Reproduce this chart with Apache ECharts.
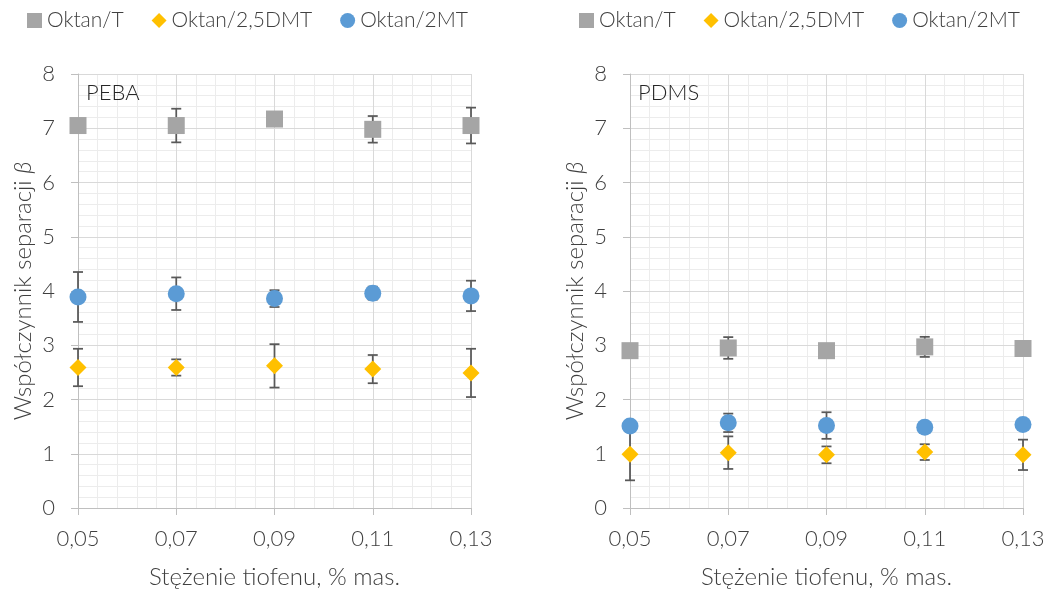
<!DOCTYPE html>
<html>
<head>
<meta charset="utf-8">
<script src="https://cdn.jsdelivr.net/npm/echarts@6/dist/echarts.min.js"></script>
<style>
  html, body { margin: 0; padding: 0; background: #ffffff; }
  #chart { width: 1046px; height: 589px; }
</style>
</head>
<body>
<div id="chart"></div>
<script>
// Thiophene concentration, % mass
const categories = ['0,05', '0,07', '0,09', '0,11', '0,13'];
const seriesNames = ['Oktan/T', 'Oktan/2,5DMT', 'Oktan/2MT'];
const panelNames = ['PEBA', 'PDMS'];

// Separation factor β, PEBA membrane (value, ± error)
const pebaT = [7.05, 7.05, 7.17, 6.98, 7.05];
const pebaTErr = [0.10, 0.31, 0.10, 0.245, 0.33];
const pebaDMT = [2.59, 2.59, 2.62, 2.56, 2.49];
const pebaDMTErr = [0.345, 0.15, 0.40, 0.26, 0.445];
const peba2MT = [3.89, 3.95, 3.86, 3.96, 3.91];
const peba2MTErr = [0.46, 0.30, 0.155, 0.12, 0.28];

// Separation factor β, PDMS membrane (value, ± error)
const pdmsT = [2.90, 2.95, 2.90, 2.97, 2.94];
const pdmsTErr = [0.08, 0.20, 0.08, 0.185, 0.08];
const pdmsDMT = [0.99, 1.02, 0.98, 1.03, 0.98];
const pdmsDMTErr = [0.48, 0.30, 0.155, 0.145, 0.28];
const pdms2MT = [1.51, 1.57, 1.52, 1.49, 1.54];
const pdms2MTErr = [0.10, 0.17, 0.245, 0.08, 0.08];

const colors = ['#A5A5A5', '#FFC000', '#5B9BD5'];
const symbols = ['rect', 'diamond', 'circle'];
const FONT = 'Lato';
const WEIGHT = 300;
const TEXT = '#404040';

const panels = [
  { values: [pebaT, pebaDMT, peba2MT], errors: [pebaTErr, pebaDMTErr, peba2MTErr] },
  { values: [pdmsT, pdmsDMT, pdms2MT], errors: [pdmsTErr, pdmsDMTErr, pdms2MTErr] }
];

const gridLeft = [78, 630];

function errorBarItem(params, api) {
  const x = api.value(0);
  const v = api.value(1);
  const e = api.value(2);
  const top = api.coord([x, v + e]);
  const bot = api.coord([x, v - e]);
  const cap = 5;
  const style = { stroke: '#595959', lineWidth: 1.75 };
  return {
    type: 'group',
    children: [
      { type: 'line', shape: { x1: top[0], y1: top[1], x2: bot[0], y2: bot[1] }, style },
      { type: 'line', shape: { x1: top[0] - cap, y1: top[1], x2: top[0] + cap, y2: top[1] }, style },
      { type: 'line', shape: { x1: bot[0] - cap, y1: bot[1], x2: bot[0] + cap, y2: bot[1] }, style }
    ]
  };
}

const grids = [];
const xAxes = [];
const yAxes = [];
const series = [];
const legends = [];
const titles = [];

panels.forEach((p, g) => {
  grids.push({
    left: gridLeft[g], width: 393, top: 74, height: 434,
    containLabel: false, outerBoundsMode: 'none'
  });

  // category axis carrying the labels, ticks and major vertical grid lines
  xAxes.push({
    type: 'category',
    gridIndex: g,
    data: categories,
    boundaryGap: false,
    z: 1,
    axisLine: { show: true, lineStyle: { color: '#bfbfbf', width: 1 } },
    axisTick: { show: true, length: 7, lineStyle: { color: '#bfbfbf' } },
    axisLabel: { color: TEXT, fontFamily: FONT, fontWeight: WEIGHT, fontSize: 22, margin: 20 },
    splitLine: { show: true, lineStyle: { color: '#d9d9d9', width: 1 } },
    name: 'Stężenie tiofenu, % mas.',
    nameLocation: 'middle',
    nameGap: 57,
    nameTextStyle: { color: TEXT, fontFamily: FONT, fontWeight: WEIGHT, fontSize: 24 }
  });

  yAxes.push({
    type: 'value',
    gridIndex: g,
    min: 0,
    max: 8,
    interval: 1,
    z: 1,
    axisLine: { show: true, lineStyle: { color: '#bfbfbf', width: 1 } },
    axisTick: { show: true, length: 7, lineStyle: { color: '#bfbfbf' } },
    axisLabel: { color: TEXT, fontFamily: FONT, fontWeight: WEIGHT, fontSize: 22, margin: 23 },
    splitLine: { show: true, lineStyle: { color: '#d9d9d9', width: 1 } },
    minorTick: { show: false, splitNumber: 5 },
    minorSplitLine: { show: true, lineStyle: { color: '#ececec', width: 1 } },
    name: 'Współczynnik separacji {b|β}',
    nameLocation: 'middle',
    nameGap: 43,
    nameTextStyle: {
      color: TEXT, fontFamily: FONT, fontWeight: WEIGHT, fontSize: 24,
      rich: { b: { fontStyle: 'italic', color: TEXT, fontFamily: FONT, fontWeight: WEIGHT, fontSize: 24 } }
    }
  });

  legends.push({
    left: gridLeft[g] - 51,
    top: 10,
    padding: 0,
    itemGap: 28,
    itemWidth: 15,
    itemHeight: 15,
    selectedMode: false,
    textStyle: { color: TEXT, fontFamily: FONT, fontWeight: WEIGHT, fontSize: 21 },
    data: seriesNames.map((n, i) => ({ name: n, icon: symbols[i] }))
  });

  titles.push({
    text: panelNames[g],
    left: gridLeft[g] + 8,
    top: 82,
    padding: 0,
    textStyle: { color: '#262626', fontFamily: FONT, fontWeight: WEIGHT, fontSize: 22 }
  });
});

// minor vertical grid lines (five per category step)
panels.forEach((p, g) => {
  xAxes.push({
    type: 'value',
    gridIndex: g,
    min: 0,
    max: 20,
    interval: 1,
    z: 0,
    axisLine: { show: false },
    axisTick: { show: false },
    axisLabel: { show: false },
    splitLine: { show: true, lineStyle: { color: '#ececec', width: 1 } }
  });
});

panels.forEach((p, g) => {
  seriesNames.forEach((name, i) => {
    series.push({
      type: 'custom',
      name: name,
      xAxisIndex: g,
      yAxisIndex: g,
      z: 3,
      silent: true,
      renderItem: errorBarItem,
      encode: { x: 0, y: 1 },
      itemStyle: { color: colors[i] },
      data: p.values[i].map((v, k) => [k, v, p.errors[i][k]])
    });
  });
  seriesNames.forEach((name, i) => {
    series.push({
      type: 'scatter',
      name: name,
      xAxisIndex: g,
      yAxisIndex: g,
      z: 4,
      symbol: symbols[i],
      symbolSize: 17,
      itemStyle: { color: colors[i], opacity: 1 },
      data: p.values[i].map((v, k) => [k, v])
    });
  });
});

const chart = echarts.init(document.getElementById('chart'), null, { renderer: 'canvas' });
chart.setOption({
  animation: false,
  backgroundColor: '#ffffff',
  title: titles,
  legend: legends,
  grid: grids,
  xAxis: xAxes,
  yAxis: yAxes,
  series: series
});
</script>
</body>
</html>
